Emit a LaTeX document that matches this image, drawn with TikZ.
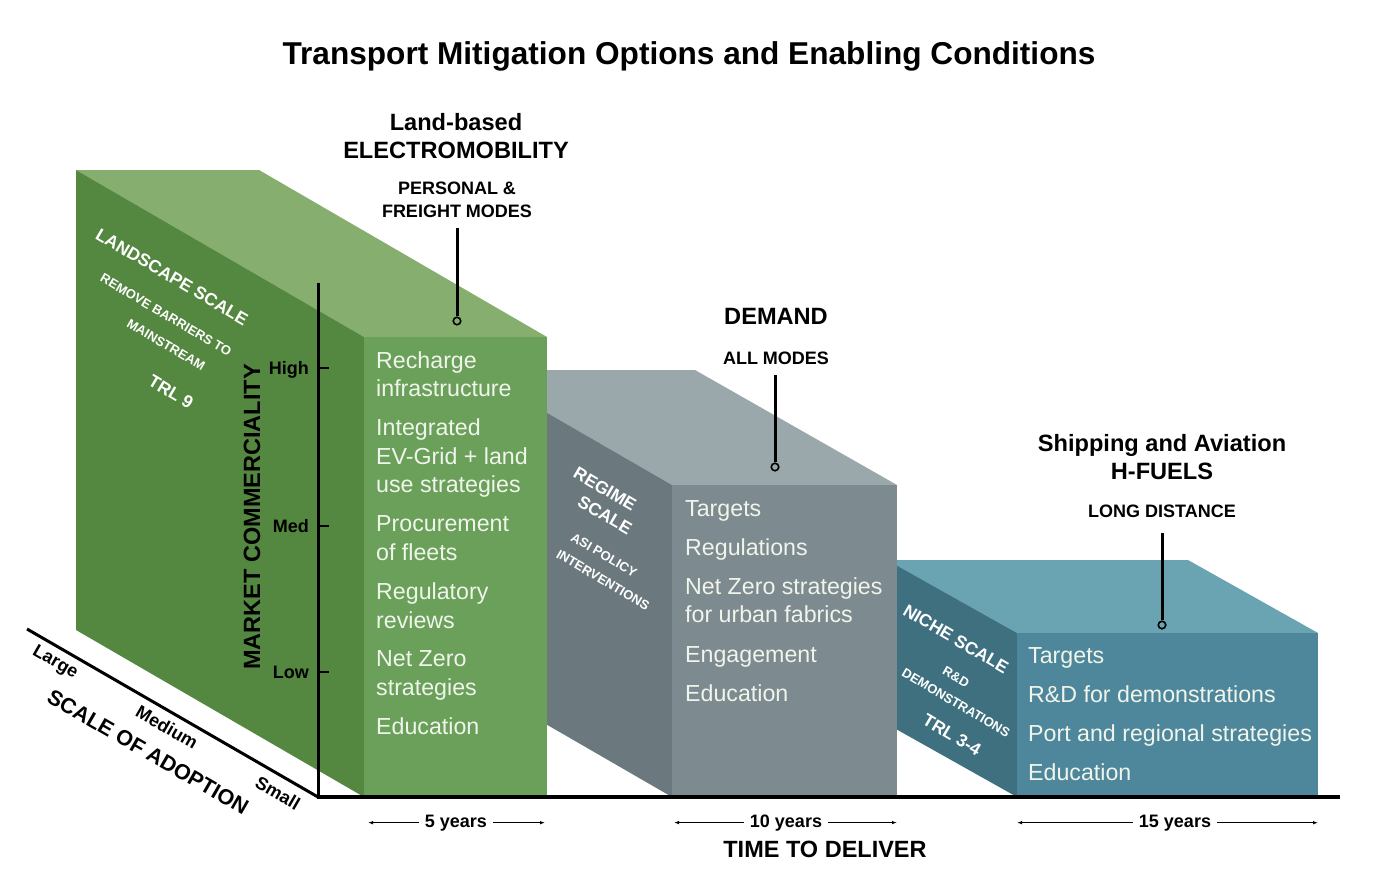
\documentclass[tikz,border=0pt]{standalone}
\usepackage{fontspec}
\setmainfont{Liberation Sans}
\usetikzlibrary{arrows.meta}
\definecolor{gfront}{HTML}{6AA059}
\definecolor{gside}{HTML}{548740}
\definecolor{gtop}{HTML}{86AE6E}
\definecolor{rfront}{HTML}{7D8A8F}
\definecolor{rside}{HTML}{6B797E}
\definecolor{rtop}{HTML}{9AA7AB}
\definecolor{tfront}{HTML}{4E879B}
\definecolor{tside}{HTML}{3E7080}
\definecolor{ttop}{HTML}{6AA3B1}
\definecolor{itemtext}{HTML}{F0F5EB}
\newcommand{\fsz}[1]{\fontsize{#1}{#1}\selectfont}
\tikzset{
  item/.style={anchor=base west, inner sep=0pt, text=itemtext, font=\fsz{23.2}},
  sidehead/.style={inner sep=0pt, text=white, rotate=-30.5, font=\bfseries\fsz{17.5}},
  sidesub/.style={inner sep=0pt, text=white, rotate=-30.5, font=\bfseries\fsz{13}},
  head/.style={anchor=base, inner sep=0pt, font=\bfseries\fsz{23.6}},
  subhead/.style={anchor=base, inner sep=0pt, font=\bfseries\fsz{18}},
  callout/.style={line width=3pt},
  dot/.style={circle, draw=black, line width=1.6pt, minimum size=7.5pt, inner sep=0pt},
  ticklabel/.style={anchor=base east, inner sep=0pt, font=\bfseries\fsz{18}},
  ground/.style={inner sep=0pt, rotate=-30, font=\bfseries\fsz{18}},
  years/.style={anchor=base, inner sep=0pt, font=\bfseries\fsz{18}},
  yrarrow/.style={-{Latex[length=5pt,width=3.5pt]}, line width=0.9pt, shorten <=6pt},
  axisline/.style={line width=3pt},
}
\begin{document}
\begin{tikzpicture}[x=1pt,y=-1pt]
\fill[white] (0,0) rectangle (1378,883);
\useasboundingbox (0,0) rectangle (1378,883);

% ---- niche (teal) box
\fill[ttop] (887,560) -- (1188,560) -- (1318,633) -- (1017,633) -- cycle;
\fill[tside] (887,560) -- (1017,633) -- (1017,797) -- (887,724) -- cycle;
\fill[tfront] (1017,633) rectangle (1318,797);
% ---- regime (grey) box
\fill[rtop] (473,370) -- (695,370) -- (897,485) -- (672,485) -- cycle;
\fill[rside] (473,370) -- (672,485) -- (672,797) -- (473,682) -- cycle;
\fill[rfront] (672,485) rectangle (897,797);
% ---- landscape (green) box
\fill[gtop] (76,170) -- (259,170) -- (547,337) -- (364,337) -- cycle;
\fill[gside] (76,170) -- (364,337) -- (364,797) -- (76,630) -- cycle;
\fill[gfront] (364,337) rectangle (547,797);

% ---- axes
\coordinate (o) at (318,797);
\coordinate (ytop) at (318,283);
\coordinate (xend) at (1340,797);
\coordinate (zend) at (27,629);
\draw[axisline] (zend) -- (o);
\draw[axisline] (ytop) -- (o);
\draw[line width=4pt] (316.5,797) -- (xend);
\foreach \yy/\nm/\lab in {368/hi/High, 526/me/Med, 672/lo/Low}{
  \coordinate (t\nm a) at (318,\yy);
  \coordinate (t\nm b) at (329,\yy);
  \draw[line width=2.5pt] (t\nm a) -- (t\nm b);
  \node[ticklabel] (l\nm) at (309,\yy+6) {\lab};
}
\node[rotate=90, inner sep=0pt, font=\bfseries\fsz{23.5}] (mc) at (252,517) {MARKET COMMERCIALITY};

\node[ground] (large) at (55,663) {Large};
\node[ground] (medium) at (167,727) {Medium};
\node[ground] (small) at (278,793) {Small};
\node[ground, font=\bfseries\fsz{21.5}] (soa) at (148,752) {SCALE OF ADOPTION};

% ---- side face texts
\node[sidehead] (ls1) at (172,277) {LANDSCAPE SCALE};
\node[sidesub] (ls2) at (166,315) {REMOVE BARRIERS TO};
\node[sidesub] (ls3) at (166,345) {MAINSTREAM};
\node[sidehead] (ls4) at (171,392) {TRL 9};

\node[sidehead] (rs1) at (605,489) {REGIME};
\node[sidehead] (rs2) at (605,515) {SCALE};
\node[sidesub] (rs3) at (604,555) {ASI POLICY};
\node[sidesub] (rs4) at (603,580) {INTERVENTIONS};

\node[sidehead] (ns1) at (956,639) {NICHE SCALE};
\node[sidesub] (ns2) at (956,677) {R\&D};
\node[sidesub] (ns3) at (956,703) {DEMONSTRATIONS};
\node[sidehead] (ns4) at (952,735) {TRL 3-4};

% ---- front face items
\foreach \t/\b [count=\i] in {Recharge/368, infrastructure/396, Integrated/435, EV-Grid + land/464, use strategies/492, Procurement/531, of fleets/560, Regulatory/599, reviews/628, Net Zero/666, strategies/695, Education/734}
  \node[item, name=g\i] at (376,\b) {\t};
\foreach \t/\b [count=\i] in {Targets/516, Regulations/555, Net Zero strategies/594, for urban fabrics/622, Engagement/662, Education/701}
  \node[item, name=r\i] at (685,\b) {\t};
\foreach \t/\b [count=\i] in {Targets/663, R\&D for demonstrations/702, Port and regional strategies/741, Education/780}
  \node[item, name=n\i] at (1028,\b) {\t};

% ---- headings and callouts
\node[anchor=base, inner sep=0pt, font=\bfseries\fsz{31.6}] (title) at (689,65) {Transport Mitigation Options and Enabling Conditions};

\node[head] (lb) at (456,130) {Land-based};
\node[head] (em) at (456,158) {ELECTROMOBILITY};
\node[subhead] (pm) at (457,194.5) {PERSONAL \&};
\node[subhead] (fm) at (457,217.5) {FREIGHT MODES};
\node[dot, fill=gtop] (d1) at (457,321) {};
\draw[callout] ([yshift=-10.5pt]fm.south) -- (d1.north);

\node[head] (dm) at (776,324) {DEMAND};
\node[subhead] (am) at (776,364.5) {ALL MODES};
\node[dot, fill=rtop] (d2) at (775,467) {};
\draw[callout] ([yshift=-10.5pt]am.south -| d2.north) -- (d2.north);

\node[head] (sa) at (1162,451) {Shipping and Aviation};
\node[head] (hf) at (1162,479) {H-FUELS};
\node[subhead] (ld) at (1162,517.5) {LONG DISTANCE};
\node[dot, fill=ttop] (d3) at (1162,625) {};
\draw[callout] ([yshift=-15.5pt]ld.south) -- (d3.north);

% ---- time axis
\node[years] (y5) at (456,827) {5 years};
\node[years] (y10) at (786,827) {10 years};
\node[years] (y15) at (1175,827) {15 years};
\coordinate (y5l) at (368,821); \coordinate (y5r) at (545,821);
\coordinate (y10l) at (674,821); \coordinate (y10r) at (897,821);
\coordinate (y15l) at (1017,821); \coordinate (y15r) at (1318,821);
\foreach \n in {y5,y10,y15}{
  \draw[yrarrow] (\n.west) -- (\n.west -| \n l);
  \draw[yrarrow] (\n.east) -- (\n.east -| \n r);
}
\node[anchor=base, inner sep=0pt, font=\bfseries\fsz{23.5}] (ttd) at (825,857) {TIME TO DELIVER};
\end{tikzpicture}
\end{document}
